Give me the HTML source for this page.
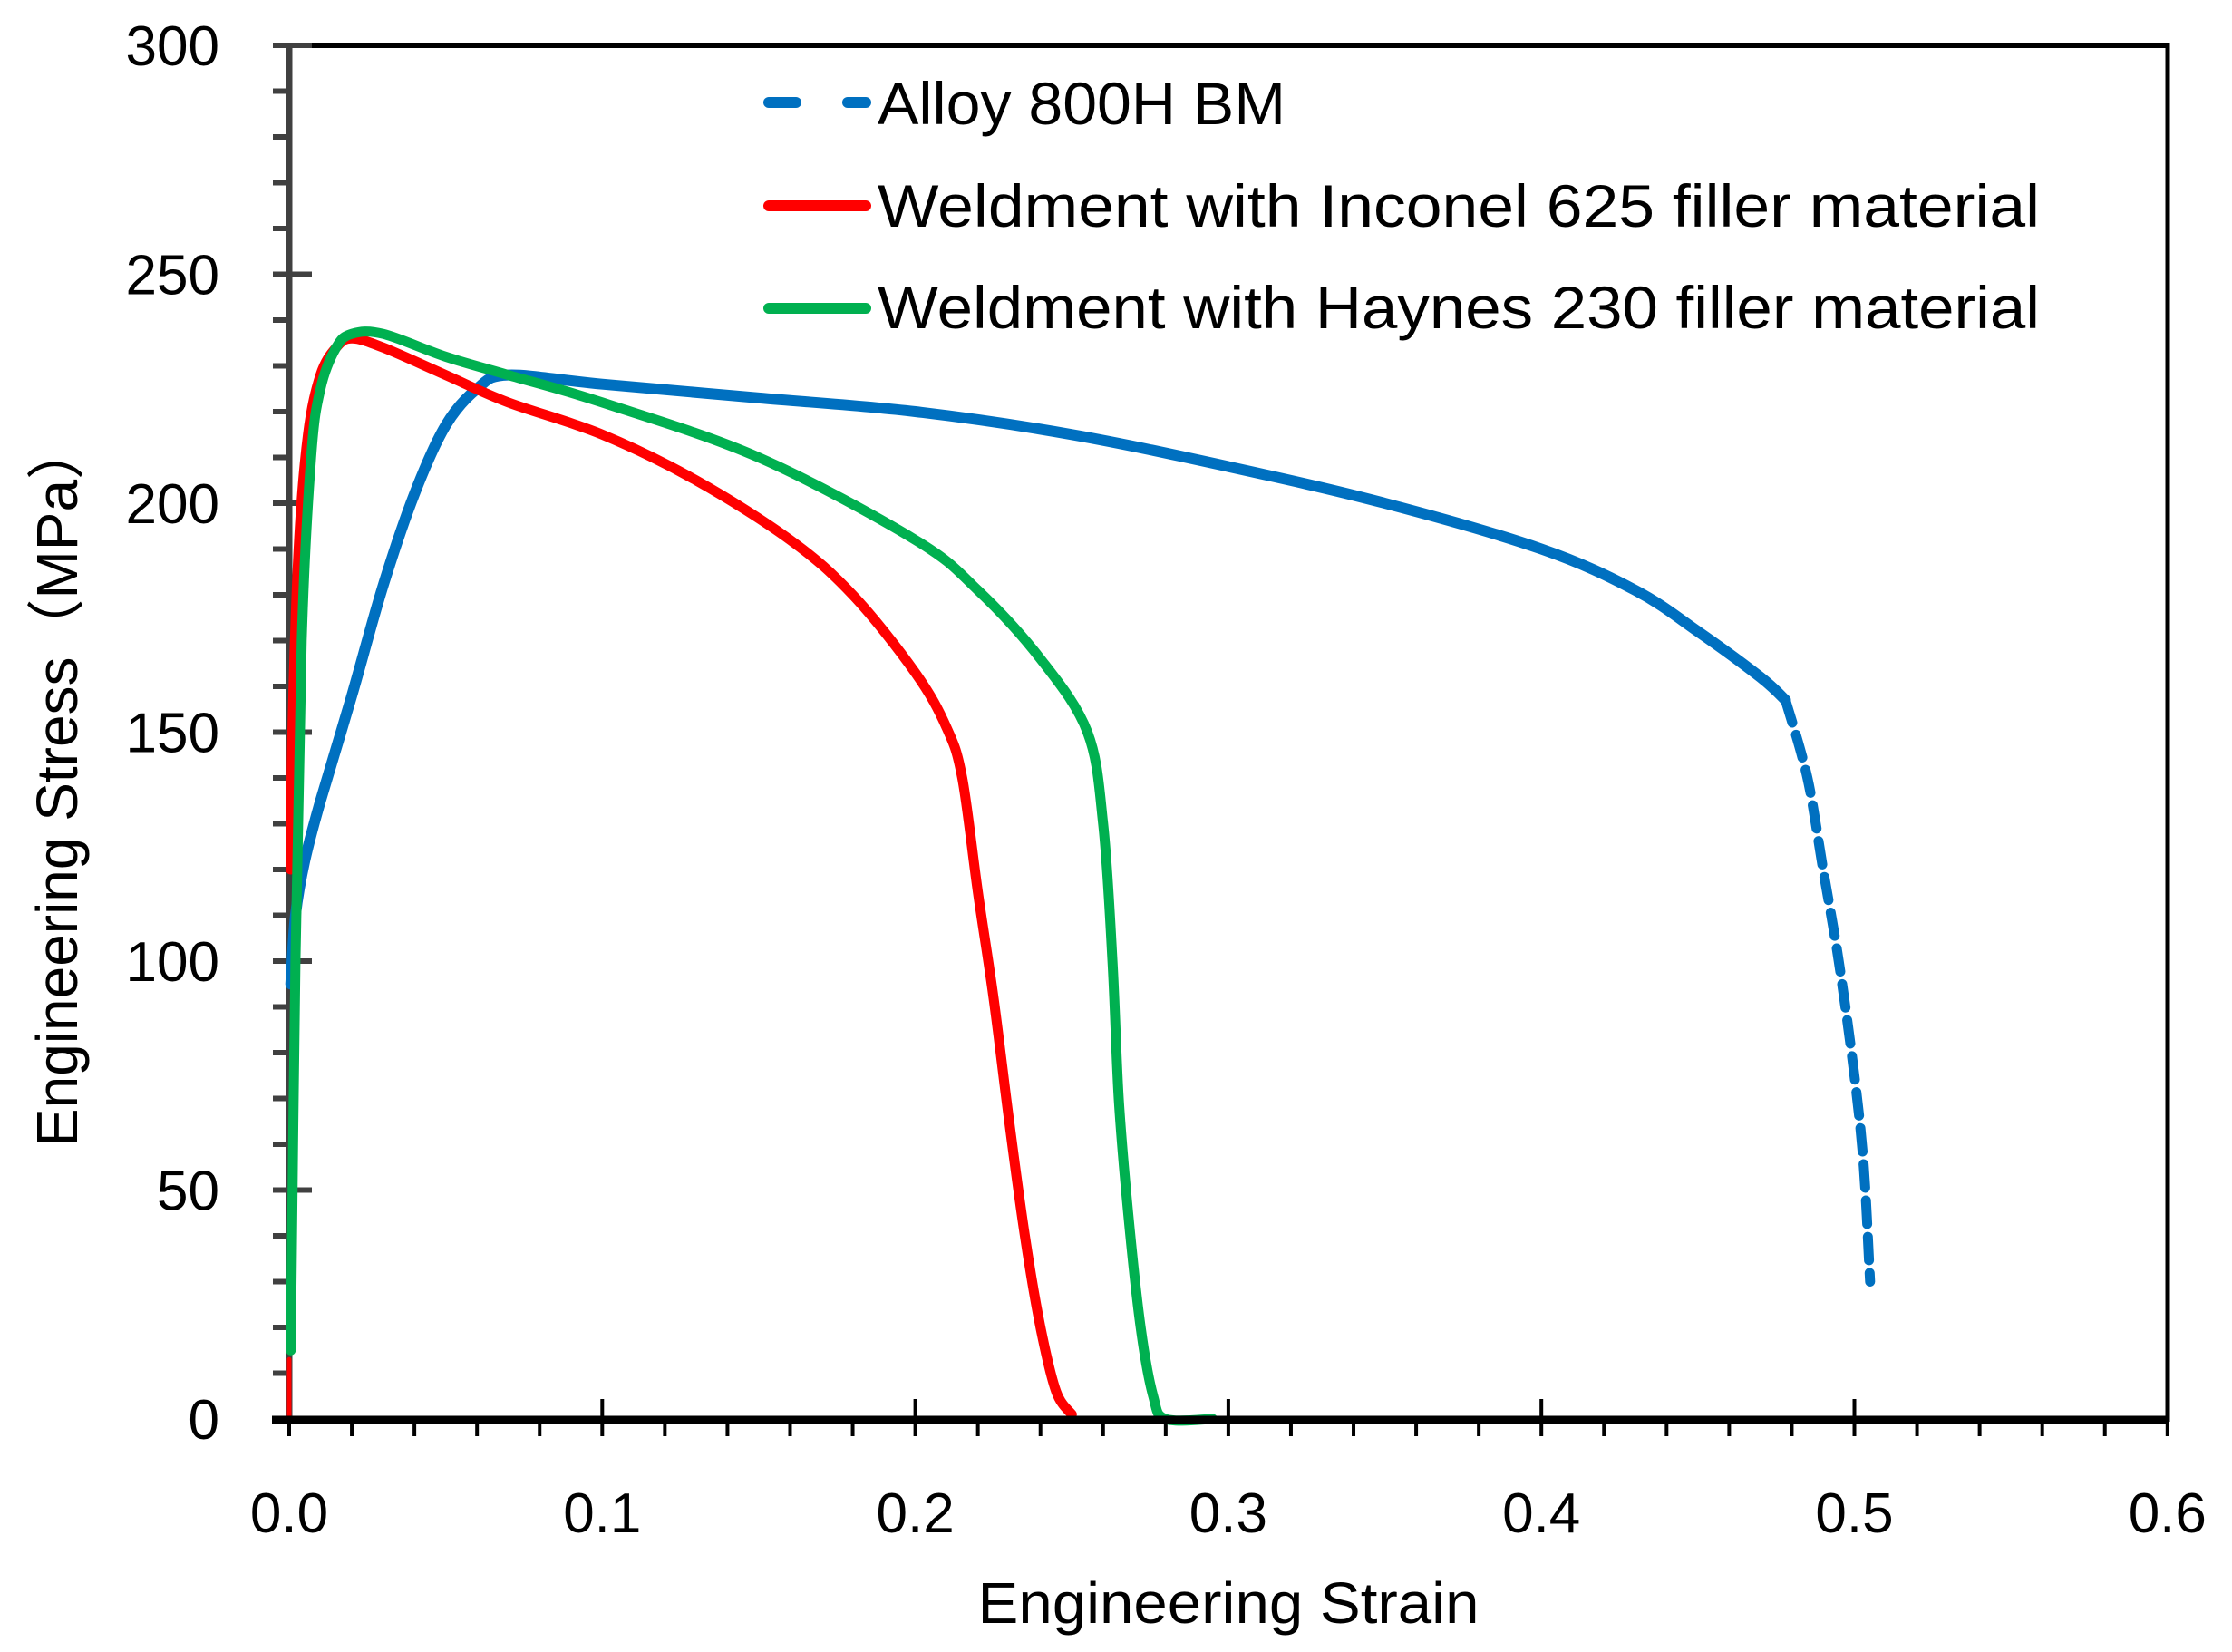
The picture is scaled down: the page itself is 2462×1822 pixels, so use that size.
<!DOCTYPE html>
<html><head><meta charset="utf-8"><style>html,body{margin:0;padding:0;background:#fff}svg{display:block}</style></head>
<body>
<svg width="2462" height="1822" viewBox="0 0 2462 1822" xmlns="http://www.w3.org/2000/svg" font-family="'Liberation Sans', sans-serif">
<rect width="2462" height="1822" fill="#fff"/>
<line x1="319" y1="50" x2="2391" y2="50" stroke="#000" stroke-width="6"/>
<line x1="2391" y1="47" x2="2391" y2="1568" stroke="#000" stroke-width="5"/>
<g id="yt" stroke="#404040" stroke-width="6"></g>
<g id="xt" stroke="#000" stroke-width="4"></g>
<line x1="319" y1="47" x2="319" y2="1568" stroke="#404040" stroke-width="7"/>
<g id="curves" fill="none" stroke-linejoin="round" stroke-linecap="round"></g>
<line x1="300" y1="1566" x2="2393" y2="1566" stroke="#000" stroke-width="9"/>
<g id="ylab" font-size="62" text-anchor="end" fill="#000"></g>
<g id="xlab" font-size="62" text-anchor="middle" fill="#000"></g>
<text x="1355" y="1790" font-size="64" text-anchor="middle" textLength="553" lengthAdjust="spacingAndGlyphs">Engineering Strain</text>
<text transform="translate(85,865) rotate(-90)" font-size="64" text-anchor="middle" textLength="800" lengthAdjust="spacingAndGlyphs">Engineering Stress（MPa）</text>
<line x1="848" y1="113" x2="878" y2="113" stroke="#0070C0" stroke-width="12" stroke-linecap="round"/>
<line x1="935" y1="113" x2="955" y2="113" stroke="#0070C0" stroke-width="12" stroke-linecap="round"/>
<line x1="848" y1="227" x2="955" y2="227" stroke="#FF0000" stroke-width="12" stroke-linecap="round"/>
<line x1="848" y1="340" x2="955" y2="340" stroke="#00B050" stroke-width="12" stroke-linecap="round"/>
<text x="968" y="137" font-size="66" textLength="450" lengthAdjust="spacingAndGlyphs">Alloy 800H BM</text>
<text x="968" y="250" font-size="66" textLength="1282" lengthAdjust="spacingAndGlyphs">Weldment with Inconel 625 filler material</text>
<text x="968" y="362" font-size="66" textLength="1282" lengthAdjust="spacingAndGlyphs">Weldment with Haynes 230 filler material</text>
</svg>
<script>
const X=e=>319+e*3453, Y=s=>1565-s*5.05, NS="http://www.w3.org/2000/svg";
function el(p,t,a,txt){const e=document.createElementNS(NS,t);for(const k in a)e.setAttribute(k,a[k]);if(txt!=null)e.textContent=txt;document.getElementById(p).appendChild(e);}
for(let s=0;s<=300;s+=10){const y=Y(s);const maj=s%50==0;el('yt','line',{x1:301,y1:y,x2:maj?344:319,y2:y});if(maj)el('ylab','text',{x:242,y:y+22},String(s));}
for(let i=0;i<=30;i++){const e=i*0.02,x=X(e);el('xt','line',{x1:x,y1:1566,x2:x,y2:1584});if(i%5==0){el('xt','line',{x1:x,y1:1543,x2:x,y2:1566});el('xlab','text',{x:x,y:1690},(e).toFixed(1));}}
function path(pts,col,w,dash){const P=pts.map(p=>[X(p[0]),Y(p[1])]);let d='M'+P[0][0].toFixed(1)+' '+P[0][1].toFixed(1);
for(let i=0;i < P.length-1;i++){const p0=P[i-1]||P[i],p1=P[i],p2=P[i+1],p3=P[i+2]||p2;const t=6;
const c1=[p1[0]+(p2[0]-p0[0])/t,p1[1]+(p2[1]-p0[1])/t],c2=[p2[0]-(p3[0]-p1[0])/t,p2[1]-(p3[1]-p1[1])/t];
d+=' C'+c1[0].toFixed(1)+' '+c1[1].toFixed(1)+' '+c2[0].toFixed(1)+' '+c2[1].toFixed(1)+' '+p2[0].toFixed(1)+' '+p2[1].toFixed(1);}
const a={d:d,stroke:col,'stroke-width':w};if(dash)a['stroke-dasharray']=dash;el('curves','path',a);}
path([[0.0005,95],[0.002,110],[0.005,122],[0.01,135],[0.02,158],[0.03,182],[0.04,202],[0.05,217],[0.06,225],[0.07,228],[0.1,226],[0.15,223],[0.2,220],[0.25,215],[0.3,208],[0.35,200],[0.4,190],[0.43,181],[0.45,172],[0.47,162],[0.478,157]],'#0070C0',12);
path([[0.478,157],[0.485,140],[0.49,120],[0.495,100],[0.5,75],[0.503,55],[0.505,30]],'#0070C0',11,'26 14');
path([[0,0],[0,13]],'#FF0000',5);
path([[0.0005,120],[0.001,150],[0.003,190],[0.006,215],[0.01,228],[0.015,234],[0.02,236],[0.03,234],[0.05,228],[0.07,222],[0.1,215],[0.13,205],[0.16,192],[0.18,180],[0.2,163],[0.21,151],[0.215,140],[0.22,115],[0.225,92],[0.23,65],[0.235,40],[0.24,20],[0.245,6],[0.25,1]],'#FF0000',11);
path([[0.0005,15],[0.002,100],[0.004,170],[0.007,210],[0.01,225],[0.015,234],[0.02,237],[0.03,237],[0.05,232],[0.07,228],[0.1,222],[0.15,210],[0.2,192],[0.22,181],[0.24,166],[0.255,150],[0.26,130],[0.263,100],[0.265,70],[0.268,45],[0.272,20],[0.276,5],[0.28,0],[0.295,0]],'#00B050',11);
</script>
</body></html>
